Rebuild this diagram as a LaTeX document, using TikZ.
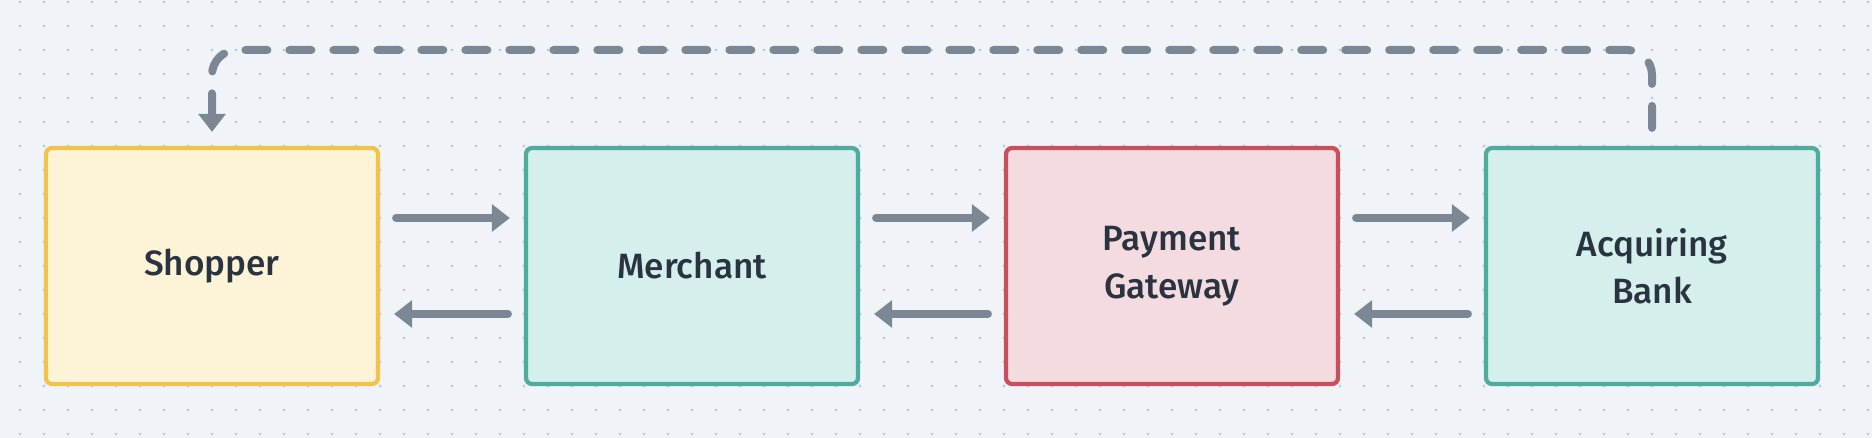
\documentclass[tikz,border=0pt]{standalone}
\usepackage{fontspec}
\setmainfont{Fira Sans}[UprightFont=* Medium]
\usepackage{xcolor}
\usetikzlibrary{arrows.meta}
\definecolor{bgcol}{HTML}{F0F4F8}
\definecolor{dotcol}{HTML}{C3CCD8}
\definecolor{arrcol}{HTML}{7B8794}
\definecolor{txtcol}{HTML}{2A3441}
\definecolor{yelfill}{HTML}{FDF3D7}
\definecolor{yelline}{HTML}{F0C44C}
\definecolor{tealfill}{HTML}{D5EFEC}
\definecolor{tealline}{HTML}{4FAB9D}
\definecolor{redfill}{HTML}{F3DBDF}
\definecolor{redline}{HTML}{C8505E}

\begin{document}
\begin{tikzpicture}[x=0.02cm,y=-0.02cm,
    box/.style={draw,line width=0.085cm,rounded corners=0.12cm,
      minimum width=6.64cm,minimum height=4.72cm,inner sep=0pt,
      align=center,text=txtcol,font=\fontsize{20}{27}\selectfont},
    flow/.style={draw=arrcol,line width=0.16cm,line cap=round,
      shorten <=0.32cm,shorten >=0.28cm,
      -{Triangle[width=0.53cm,length=0.36cm]}},
    back/.style={flow,dash pattern=on 0.44cm off 0.44cm,
      rounded corners=0.5cm,shorten <=0.36cm}]
  \useasboundingbox (0,0) rectangle (1872,438);
  \fill[bgcol] (0,0) rectangle (1872,438);
    % dotted grid
  \foreach \x in {20,44,...,1868}{
    \foreach \y in {2,26,...,434}{
      \fill[dotcol] (\x,\y) circle (0.034cm);
    }
  }
      \node[box,fill=yelfill,draw=yelline] (S) at (212,266) {Shopper};
      \node[box,fill=tealfill,draw=tealline] (M) at (692,266) {Merchant};
      \node[box,fill=redfill,draw=redline] (G) at (1172,266) {Payment\\Gateway};
      \node[box,fill=tealfill,draw=tealline] (B) at (1652,266) {Acquiring\\Bank};
      \coordinate (T) at (932,50);
        % requests and replies
      \draw[flow] ([yshift=0.96cm]S.east) -- ([yshift=0.96cm]M.west);
      \draw[flow] ([yshift=0.96cm]M.east) -- ([yshift=0.96cm]G.west);
      \draw[flow] ([yshift=0.96cm]G.east) -- ([yshift=0.96cm]B.west);
      \draw[flow] ([yshift=-0.96cm]M.west) -- ([yshift=-0.96cm]S.east);
      \draw[flow] ([yshift=-0.96cm]G.west) -- ([yshift=-0.96cm]M.east);
      \draw[flow] ([yshift=-0.96cm]B.west) -- ([yshift=-0.96cm]G.east);
        % back to the shopper
      \draw[back] (B.north) |- (T) -| (S.north);
\end{tikzpicture}
\end{document}
